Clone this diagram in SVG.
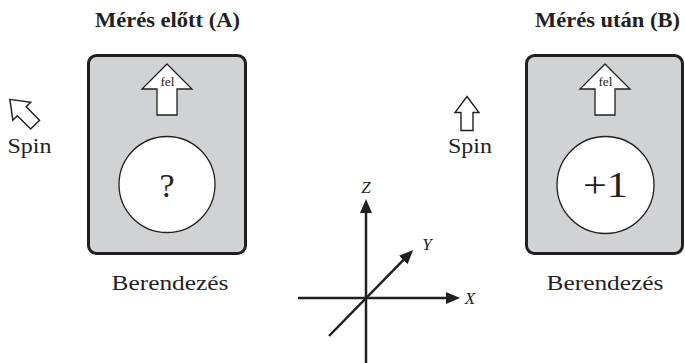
<svg xmlns="http://www.w3.org/2000/svg" xmlns:xlink="http://www.w3.org/1999/xlink" width="685" height="363" viewBox="0 0 685 363">
<style>
text{font-family:"Liberation Serif","Times New Roman",serif;fill:#231f20}
.title{font-weight:bold;font-size:20px}
.lbl{font-size:20px}
.fel{font-size:13.5px}
.ax{font-size:17px;font-style:italic}
.box{fill:#d1d2d4;stroke:#231f20;stroke-width:3}
.wh{fill:#fff;stroke:#231f20;stroke-width:1.3}
.axis{stroke:#231f20;stroke-width:2.5;fill:none}
</style>
<defs>
<marker id="ah" viewBox="0 0 14 12" refX="1" refY="6" markerWidth="14" markerHeight="12" markerUnits="userSpaceOnUse" orient="auto">
<path d="M0,0 L14,6 L0,12 z" fill="#231f20"/>
</marker>
<path id="spinArrow" d="M0,-17 L12,-1 L6,-1 L6,17 L-6,17 L-6,-1 L-12,-1 z" fill="#fff" stroke="#231f20" stroke-width="1.4" stroke-linejoin="miter"/>
</defs>

<g id="deviceA">
<text class="title" x="167.5" y="27" text-anchor="middle" textLength="145" lengthAdjust="spacingAndGlyphs">Mérés előtt (A)</text>
<rect class="box" x="88.5" y="55.5" width="157" height="198" rx="8"/>
<path class="wh" d="M167,64 L192,89 L177,89 L177,115 L157,115 L157,89 L142,89 z"/>
<text class="fel" x="167.5" y="86" text-anchor="middle">fel</text>
<circle class="wh" cx="167" cy="184.5" r="48"/>
<text x="167" y="197" text-anchor="middle" style="font-size:34px">?</text>
<text class="lbl" x="170" y="290" text-anchor="middle" textLength="117" lengthAdjust="spacingAndGlyphs">Berendezés</text>
</g>

<g id="spinA">
<use xlink:href="#spinArrow" href="#spinArrow" transform="translate(22.5,112) rotate(-45) scale(1.05)"/>
<text class="lbl" x="29.5" y="153" text-anchor="middle" textLength="44" lengthAdjust="spacingAndGlyphs">Spin</text>
</g>

<g id="deviceB">
<text class="title" x="607.5" y="27" text-anchor="middle" textLength="145" lengthAdjust="spacingAndGlyphs">Mérés után (B)</text>
<rect class="box" x="526.5" y="55.5" width="156" height="198" rx="8"/>
<path class="wh" d="M605,64 L630,89 L615,89 L615,115 L595,115 L595,89 L580,89 z"/>
<text class="fel" x="605.5" y="86" text-anchor="middle">fel</text>
<circle class="wh" cx="605.5" cy="185" r="48.5"/>
<text x="605.5" y="197" text-anchor="middle" style="font-size:36px" textLength="45" lengthAdjust="spacingAndGlyphs">+1</text>
<text class="lbl" x="605" y="290" text-anchor="middle" textLength="117" lengthAdjust="spacingAndGlyphs">Berendezés</text>
</g>

<g id="spinB">
<use xlink:href="#spinArrow" href="#spinArrow" transform="translate(467,113.5)"/>
<text class="lbl" x="470" y="153" text-anchor="middle" textLength="44" lengthAdjust="spacingAndGlyphs">Spin</text>
</g>

<g id="axes">
<line class="axis" x1="366" y1="365" x2="366" y2="212" marker-end="url(#ah)"/>
<line class="axis" x1="298" y1="298" x2="447" y2="298" marker-end="url(#ah)"/>
<line class="axis" x1="329" y1="336" x2="404" y2="259.3" marker-end="url(#ah)"/>
<text class="ax" x="366" y="193" text-anchor="middle">Z</text>
<text class="ax" x="427" y="250" text-anchor="middle">Y</text>
<text class="ax" x="470" y="304" text-anchor="middle">X</text>
</g>
</svg>
